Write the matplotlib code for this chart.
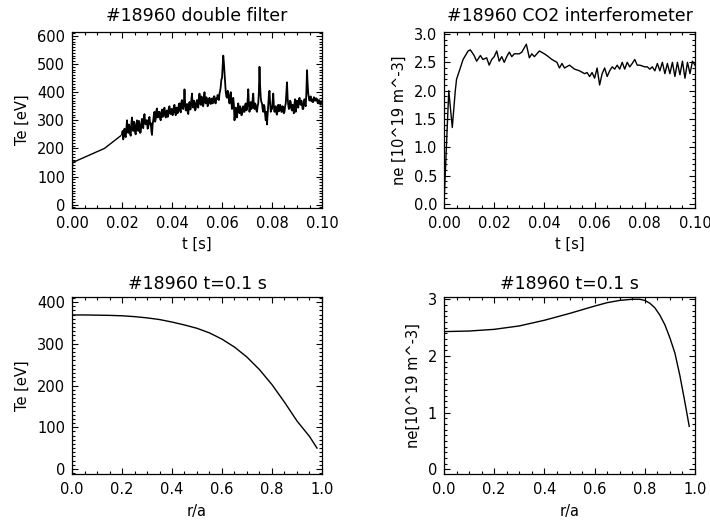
import numpy as np
import matplotlib
matplotlib.use("Agg")
import matplotlib.pyplot as plt
from matplotlib.ticker import MultipleLocator

# --- Te from double filter (time trace) ---
te_t_start = [0.0, 0.0003, 0.013, 0.0195]
te_v_start = [112, 150, 200, 245]
te_noisy = [
    250, 262, 232, 255, 270, 245, 240, 268, 300, 262, 255, 285, 278, 250, 245, 290, 310, 270, 262, 295,
    290, 255, 250, 280, 300, 268, 262, 298, 285, 255, 258, 290, 305, 275, 272, 310, 322, 290, 285, 300,
    300, 270, 275, 305, 312, 285, 290, 262, 248, 285, 300, 320, 330, 295, 305, 335, 342, 310, 312, 330,
    330, 305, 300, 325, 338, 312, 315, 340, 345, 318, 310, 332, 335, 312, 318, 345, 350, 325, 322, 340,
    340, 318, 325, 350, 355, 328, 318, 345, 345, 325, 332, 358, 360, 335, 328, 365, 372, 345, 340, 360,
    410, 360, 335, 355, 358, 330, 322, 350, 365, 338, 340, 375, 395, 352, 345, 370, 360, 335, 340, 365,
    372, 350, 345, 380, 395, 362, 355, 385, 380, 352, 350, 378, 400, 365, 360, 382, 375, 350, 355, 372,
    380, 362, 358, 372, 378, 360, 365, 385, 385, 362, 360, 378, 375, 390, 380, 372, 395, 405, 420, 445,
    450, 490, 530, 505, 470, 430, 400, 385, 380, 405, 395, 375, 360, 385, 400, 365, 340, 365, 380, 355,
    300, 325, 345, 320, 310, 340, 360, 335, 325, 350, 340, 318, 320, 345, 350, 330, 330, 355, 360, 335,
    340, 370, 410, 360, 330, 350, 365, 340, 345, 375, 395, 350, 340, 360, 355, 335, 330, 350, 360, 400,
    490, 420, 380, 365, 360, 340, 330, 355, 350, 320, 300, 330, 285, 320, 360, 390, 405, 360, 330, 345,
    340, 370, 395, 350, 330, 345, 350, 325, 320, 340, 355, 332, 335, 355, 350, 330, 330, 350, 345, 325,
    330, 350, 360, 400, 435, 380, 355, 340, 345, 370, 365, 340, 335, 355, 340, 325, 360, 375, 330, 345,
    370, 355, 345, 368, 380, 360, 355, 370, 360, 340, 340, 362, 375, 355, 350, 400, 478, 430, 395, 380,
    370, 380, 385, 368, 375, 365, 365, 382, 380, 370, 370, 378, 375, 362, 360, 372, 370, 358, 355, 368, 365,
]
te_t_noisy = np.linspace(0.020, 0.100, len(te_noisy))

# --- ne from CO2 interferometer (time trace) ---
ne_t = [0.0, 0.0019, 0.0033, 0.0045, 0.005, 0.0076, 0.0096, 0.0105, 0.012,
        0.013, 0.0145, 0.0155, 0.017, 0.018, 0.019, 0.020, 0.021, 0.022,
        0.023, 0.024, 0.025, 0.026, 0.027, 0.028, 0.030, 0.031, 0.0328,
        0.034, 0.035, 0.036, 0.038, 0.040, 0.041, 0.043, 0.045, 0.046,
        0.047, 0.048, 0.050, 0.052, 0.054, 0.056, 0.057, 0.058, 0.059,
        0.060, 0.061, 0.062, 0.063, 0.064, 0.065, 0.066, 0.067, 0.068,
        0.069, 0.070, 0.071, 0.072, 0.073, 0.074, 0.075, 0.076, 0.077,
        0.078, 0.080, 0.081, 0.082, 0.083, 0.084, 0.085, 0.086, 0.087,
        0.088, 0.089, 0.090, 0.091, 0.092, 0.093, 0.094, 0.095, 0.096,
        0.097, 0.098, 0.099, 0.100]
ne_v = [0.0, 2.0, 1.35, 2.0, 2.2, 2.55, 2.7, 2.72, 2.62,
        2.52, 2.62, 2.55, 2.58, 2.45, 2.55, 2.6, 2.7, 2.52,
        2.6, 2.5, 2.6, 2.68, 2.6, 2.65, 2.65, 2.68, 2.82,
        2.58, 2.65, 2.6, 2.7, 2.65, 2.62, 2.55, 2.5, 2.4,
        2.48, 2.4, 2.45, 2.38, 2.35, 2.3, 2.32, 2.25, 2.32,
        2.22, 2.4, 2.1, 2.3, 2.4, 2.25, 2.35, 2.42, 2.38,
        2.45, 2.38, 2.5, 2.38, 2.5, 2.42, 2.48, 2.55, 2.45,
        2.45, 2.42, 2.42, 2.38, 2.42, 2.35, 2.48, 2.35, 2.5,
        2.3, 2.48, 2.3, 2.5, 2.25, 2.5, 2.28, 2.52, 2.22,
        2.5, 2.3, 2.52, 2.45]

# --- profiles at t=0.1 s ---
r_te = [0.0, 0.05, 0.1, 0.15, 0.2, 0.25, 0.3, 0.35, 0.4, 0.45, 0.5,
        0.55, 0.6, 0.65, 0.7, 0.75, 0.8, 0.85, 0.9, 0.95, 0.98]
te_prof = [369, 369, 368.5, 368, 367, 365, 362, 358, 352, 345, 337,
           326, 311, 292, 268, 238, 202, 160, 115, 78, 50]
r_ne = [0.0, 0.1, 0.2, 0.3, 0.4, 0.5, 0.6, 0.65, 0.7, 0.75, 0.78,
        0.8, 0.82, 0.84, 0.86, 0.88, 0.9, 0.92, 0.94, 0.96, 0.977]
ne_prof = [2.43, 2.44, 2.47, 2.53, 2.63, 2.75, 2.88, 2.94, 2.98, 3.0, 3.0,
           2.98, 2.93, 2.85, 2.72, 2.55, 2.32, 2.05, 1.65, 1.18, 0.76]

plt.rcParams['font.family'] = ['DejaVu Sans']
W, H = 710, 522
fig = plt.figure(figsize=(W / 100, H / 100), dpi=100)


def make_ax(l, r, t, b):
    return fig.add_axes([l / W, (H - b) / H, (r - l) / W, (b - t) / H])


def style(ax, xmaj, xmin, ymaj, ymin, xfmt):
    ax.xaxis.set_major_locator(MultipleLocator(xmaj))
    ax.xaxis.set_minor_locator(MultipleLocator(xmin))
    ax.yaxis.set_major_locator(MultipleLocator(ymaj))
    ax.yaxis.set_minor_locator(MultipleLocator(ymin))
    ax.xaxis.set_major_formatter(plt.FormatStrFormatter(xfmt))
    ax.tick_params(which='both', direction='in', top=True, right=True,
                   labelsize=10.5, width=0.8)
    ax.tick_params(axis='x', pad=6)
    ax.tick_params(axis='y', pad=5)
    ax.tick_params(which='major', length=4)
    ax.tick_params(which='minor', length=2)
    for s in ax.spines.values():
        s.set_linewidth(0.9)


lw = 1.0
tfs = 12.5
lfs = 10.5
ax1 = make_ax(72, 322, 32, 208)
ax1.plot(te_t_start, te_v_start, color='black', lw=lw)
ax1.plot(te_t_noisy, te_noisy, color='black', lw=1.3)
ax1.set_xlim(0, 0.1)
ax1.set_ylim(-12, 614)
style(ax1, 0.02, 0.005, 100, 10, '%.2f')
ax1.set_title('#18960 double filter', fontsize=tfs, pad=8)
ax1.set_xlabel('t [s]', fontsize=lfs, labelpad=4)
ax1.set_ylabel('Te [eV]', fontsize=lfs, labelpad=5)

ax2 = make_ax(444, 695, 32, 208)
ax2.plot(ne_t, ne_v, color='black', lw=lw)
ax2.set_xlim(0, 0.1)
ax2.set_ylim(-0.07, 3.035)
style(ax2, 0.02, 0.005, 0.5, 0.1, '%.2f')
ax2.yaxis.set_major_formatter(plt.FormatStrFormatter('%.1f'))
ax2.set_title('#18960 CO2 interferometer', fontsize=tfs, pad=8)
ax2.set_xlabel('t [s]', fontsize=lfs, labelpad=4)
ax2.set_ylabel('ne [10^19 m^-3]', fontsize=lfs, labelpad=5)

ax3 = make_ax(72, 322, 297, 474)
ax3.plot(r_te, te_prof, color='black', lw=lw)
ax3.set_xlim(0, 1)
ax3.set_ylim(-12, 412)
style(ax3, 0.2, 0.05, 100, 10, '%.1f')
ax3.set_title('#18960 t=0.1 s', fontsize=tfs, pad=6)
ax3.set_xlabel('r/a', fontsize=lfs, labelpad=5)
ax3.set_ylabel('Te [eV]', fontsize=lfs, labelpad=5)

ax4 = make_ax(444, 695, 297, 474)
ax4.plot(r_ne, ne_prof, color='black', lw=lw)
ax4.set_xlim(0, 1)
ax4.set_ylim(-0.08, 3.04)
style(ax4, 0.2, 0.05, 1, 0.1, '%.1f')
ax4.set_title('#18960 t=0.1 s', fontsize=tfs, pad=6)
ax4.set_xlabel('r/a', fontsize=lfs, labelpad=5)
ax4.set_ylabel('ne[10^19 m^-3]', fontsize=lfs, labelpad=5)

fig.savefig('out.png', dpi=100)
